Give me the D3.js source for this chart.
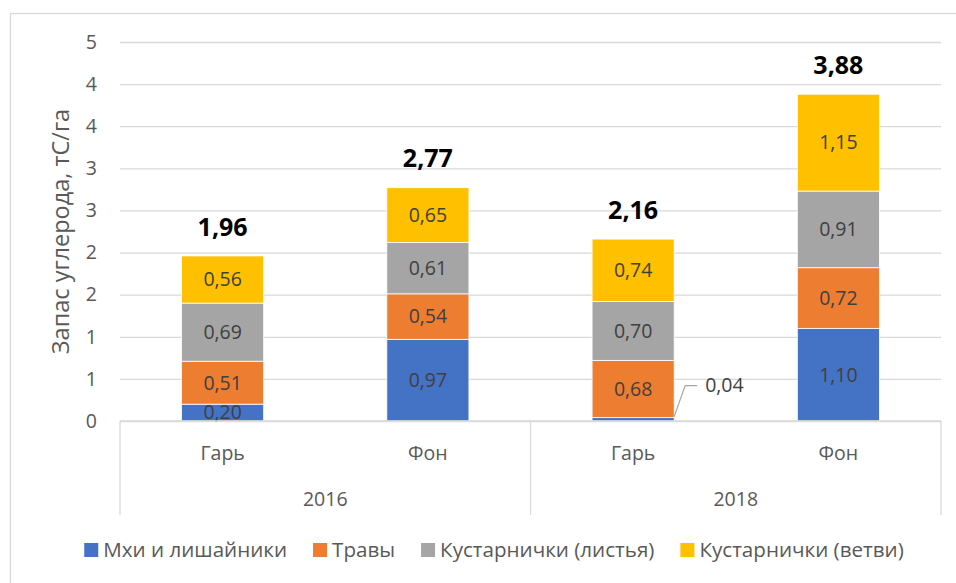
<!DOCTYPE html>
<html><head><meta charset="utf-8">
<script src="https://cdn.jsdelivr.net/npm/d3@7"></script>
<style>body{margin:0;background:#fff} svg{display:block} text{font-family:"Open Sans","Noto Sans",sans-serif}</style>
</head><body><svg id="c" width="956" height="583"></svg>
<script>
const years = ["2016", "2018"];
const sites = ["Гарь", "Фон", "Гарь", "Фон"];
const siteYears = ["2016", "2016", "2018", "2018"];
const seriesNames = ["Мхи и лишайники", "Травы", "Кустарнички (листья)", "Кустарнички (ветви)"];
const mosses = [0.20, 0.97, 0.04, 1.10];
const grasses = [0.51, 0.54, 0.68, 0.72];
const shrubLeaves = [0.69, 0.61, 0.70, 0.91];
const shrubBranches = [0.56, 0.65, 0.74, 1.15];
const totals = [1.96, 2.77, 2.16, 3.88];
const yTicks = [0, 0.5, 1, 1.5, 2, 2.5, 3, 3.5, 4, 4.5];
const yTitle = "Запас углерода, тС/га";
const colors = ["#4472C4", "#ED7D31", "#A5A5A5", "#FFC000"];

const seriesValues = [mosses, grasses, shrubLeaves, shrubBranches];
const rows = sites.map((s, i) => {
  const r = {key: siteYears[i] + "|" + s, site: s, year: siteYears[i], total: totals[i]};
  seriesNames.forEach((n, j) => r[n] = seriesValues[j][i]);
  return r;
});

const svg = d3.select("#c");
const L = 120, R = 941, T = 42, B = 421;
const fmt = v => d3.format(".2f")(v).replace(".", ",");
const FS = "19.5px";

// outer border (extends beyond viewport)
svg.append("rect").attr("x", 10.5).attr("y", 13.5).attr("width", 1000).attr("height", 1000)
  .attr("fill", "none").attr("stroke", "#D9D9D9").attr("stroke-width", 1.3);

const x = d3.scaleBand().domain(rows.map(r => r.key)).range([L, R]).paddingInner(0.6).paddingOuter(0.3);
const xYear = d3.scaleBand().domain(years).range([L, R]);
const y = d3.scaleLinear().domain([0, 4.5]).range([B, T]);

// gridlines + y labels
const yAxis = d3.axisLeft(y).tickValues(yTicks).tickSize(-(R - L)).tickFormat(d => String(Math.round(d)));
const gy = svg.append("g").attr("transform", `translate(${L},0)`).call(yAxis);
gy.select(".domain").remove();
gy.selectAll(".tick line").attr("stroke", "#D9D9D9").attr("stroke-width", 1.3);
gy.selectAll(".tick text").attr("x", -23).attr("fill", "#595959").style("font-size", FS);

// stacked bars
const stack = d3.stack().keys(seriesNames)(rows);
const layers = svg.append("g").selectAll("g").data(stack).join("g").attr("fill", (d, i) => colors[i]);
layers.selectAll("rect").data(d => d.map(p => ({p, key: d.key}))).join("rect")
  .attr("x", d => x(d.p.data.key))
  .attr("width", x.bandwidth())
  .attr("y", d => y(d.p[1]))
  .attr("height", d => y(d.p[0]) - y(d.p[1]))
  .attr("stroke", "#fff").attr("stroke-width", 0.8);

// segment labels
const lab = svg.append("g").style("font-size", FS).attr("fill", "#404040");
stack.forEach(layer => {
  layer.forEach(p => {
    const v = p.data[layer.key];
    const cx = x(p.data.key) + x.bandwidth() / 2;
    if (v < 0.1) {
      const x0 = x(p.data.key) + x.bandwidth(), y0 = y(p[1]) - 1;
      svg.append("path").attr("d", `M${x0},${y0}L${x0 + 11},${y0 - 31}L${x0 + 23},${y0 - 31}`)
        .attr("fill", "none").attr("stroke", "#A6A6A6").attr("stroke-width", 1.2);
      lab.append("text").attr("x", x0 + 31).attr("y", y0 - 31).attr("dy", "0.35em").text(fmt(v));
    } else {
      lab.append("text").attr("x", cx).attr("y", (y(p[0]) + y(p[1])) / 2).attr("dy", "0.35em")
        .attr("text-anchor", "middle").text(fmt(v));
    }
  });
});

// totals
svg.append("g").selectAll("text").data(rows).join("text")
  .attr("x", d => x(d.key) + x.bandwidth() / 2)
  .attr("y", d => y(d.total) - 29).attr("dy", "0.35em")
  .attr("text-anchor", "middle").style("font-size", "25px").style("font-weight", "bold").attr("fill", "#000")
  .text(d => fmt(d.total));

// category axis
const ax = svg.append("g").attr("stroke", "#D9D9D9").attr("stroke-width", 1.3);
ax.append("line").attr("x1", L).attr("x2", R).attr("y1", B).attr("y2", B);
const seps = years.map(yr => xYear(yr)).concat([xYear(years[years.length - 1]) + xYear.bandwidth()]);
ax.selectAll("line.sep").data(seps).join("line").attr("class", "sep")
  .attr("x1", d => d).attr("x2", d => d).attr("y1", B).attr("y2", 515);

svg.append("g").selectAll("text").data(rows).join("text")
  .attr("x", d => x(d.key) + x.bandwidth() / 2).attr("y", 453).attr("dy", "0.35em")
  .attr("text-anchor", "middle").style("font-size", FS).attr("fill", "#595959").text(d => d.site);
svg.append("g").selectAll("text").data(years).join("text")
  .attr("x", d => xYear(d) + xYear.bandwidth() / 2).attr("y", 499).attr("dy", "0.35em")
  .attr("text-anchor", "middle").style("font-size", FS).attr("fill", "#595959").text(d => d);

// y title
svg.append("text").attr("transform", `translate(61,${(T + B) / 2}) rotate(-90)`).attr("dy", "0.35em")
  .attr("text-anchor", "middle").style("font-size", "23.5px").attr("fill", "#595959").text(yTitle);

// legend
const lg = svg.append("g").style("font-size", "20.6px").attr("fill", "#595959");
const items = seriesNames.map((n, i) => {
  const g = lg.append("g");
  g.append("rect").attr("width", 14).attr("height", 14).attr("y", -7).attr("fill", colors[i]);
  const t = g.append("text").attr("x", 19).attr("dy", "0.35em").text(n);
  return {g, w: 19 + t.node().getComputedTextLength()};
});
const gap = 26;
const totalW = d3.sum(items, d => d.w) + gap * (items.length - 1);
let cx0 = 494 - totalW / 2;
items.forEach(it => { it.g.attr("transform", `translate(${cx0},550)`); cx0 += it.w + gap; });
</script></body></html>
